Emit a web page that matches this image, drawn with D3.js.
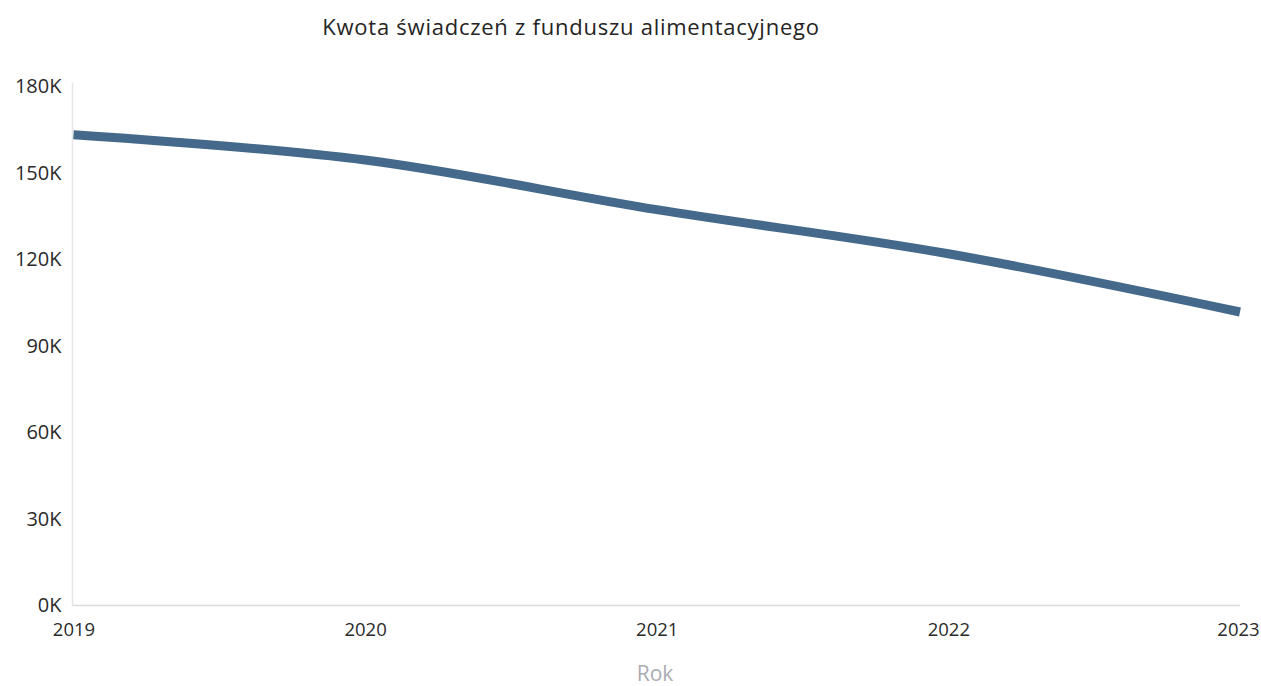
<!DOCTYPE html>
<html>
<head>
<meta charset="utf-8">
<script src="https://cdn.jsdelivr.net/npm/d3@7"></script>
<style>
  html, body { margin: 0; padding: 0; background: #ffffff; }
  svg { display: block; }
</style>
</head>
<body>
<svg id="chart" width="1261" height="686"></svg>
<script>
// Kwota świadczeń z funduszu alimentacyjnego, 2019–2023
const years = ["2019", "2020", "2021", "2022", "2023"];
const amounts = [163300, 154500, 137300, 122000, 101800];
const yTicks = [0, 30000, 60000, 90000, 120000, 150000, 180000];
const titleText = "Kwota świadczeń z funduszu alimentacyjnego";
const xAxisTitle = "Rok";

const width = 1261, height = 686;
const margin = { top: 86.5, right: 21, bottom: 80.5, left: 73.5 };

const svg = d3.select("#chart");
const font = "'Open Sans', 'Noto Sans', sans-serif";

const x = d3.scalePoint()
  .domain(years)
  .range([margin.left, width - margin.right]);

const y = d3.scaleLinear()
  .domain([0, 180000])
  .range([height - margin.bottom, margin.top]);

// title
svg.append("text")
  .attr("x", 571)
  .attr("y", 35)
  .attr("text-anchor", "middle")
  .attr("font-family", font)
  .attr("font-size", 22)
  .attr("letter-spacing", 0.75)
  .attr("fill", "#252423")
  .text(titleText);

// axis lines
svg.append("line")
  .attr("x1", margin.left - 1).attr("x2", margin.left - 1)
  .attr("y1", y(180000) - 4).attr("y2", y(0))
  .attr("stroke", "#e6e6e6").attr("stroke-width", 1.5);

svg.append("line")
  .attr("x1", margin.left - 1).attr("x2", width - margin.right)
  .attr("y1", y(0)).attr("y2", y(0))
  .attr("stroke", "#dcdcdc").attr("stroke-width", 1.5);

// y axis labels
const yAxis = d3.axisLeft(y)
  .tickValues(yTicks)
  .tickSize(0)
  .tickPadding(0)
  .tickFormat(d => (d / 1000) + "K");

const gy = svg.append("g")
  .attr("transform", `translate(${margin.left - 12},0)`)
  .call(yAxis);
gy.select(".domain").remove();
gy.selectAll("text")
  .attr("font-family", font)
  .attr("font-size", 20)
  .attr("fill", "#2b2b2b");

// x axis labels
const xAxis = d3.axisBottom(x).tickSize(0).tickPadding(0);
const gx = svg.append("g")
  .attr("transform", `translate(0,${y(0) + 17})`)
  .call(xAxis);
gx.select(".domain").remove();
gx.selectAll("text")
  .attr("font-family", font)
  .attr("font-size", 18.5)
  .attr("fill", "#2b2b2b");
gx.selectAll(".tick").filter(d => d === years[years.length - 1])
  .select("text").attr("dx", -2);

// x axis title
svg.append("text")
  .attr("x", 655)
  .attr("y", 681)
  .attr("text-anchor", "middle")
  .attr("font-family", font)
  .attr("font-size", 21)
  .attr("fill", "#a9adb3")
  .text(xAxisTitle);

// series line
const line = d3.line()
  .x((d, i) => x(years[i]))
  .y(d => y(d))
  .curve(d3.curveCatmullRom.alpha(0.5));

svg.append("path")
  .datum(amounts)
  .attr("d", line)
  .attr("fill", "none")
  .attr("stroke", "#44698b")
  .attr("stroke-width", 9)
  .attr("stroke-linejoin", "round")
  .attr("stroke-linecap", "butt");
</script>
</body>
</html>
